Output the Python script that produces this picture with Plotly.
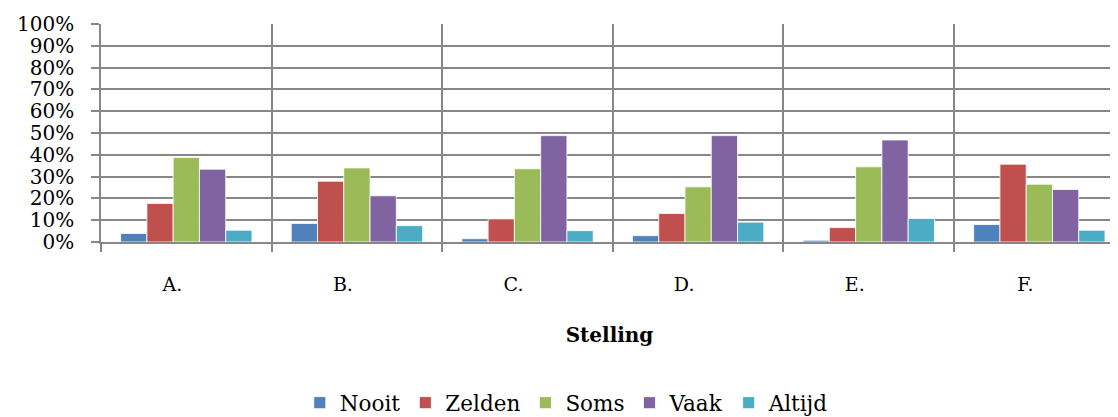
import plotly.graph_objects as go

categories = ["A.", "B.", "C.", "D.", "E.", "F."]
nooit = [0.039, 0.085, 0.015, 0.029, 0.008, 0.080]
zelden = [0.177, 0.279, 0.106, 0.131, 0.066, 0.357]
soms = [0.388, 0.340, 0.336, 0.253, 0.345, 0.265]
vaak = [0.334, 0.212, 0.488, 0.488, 0.468, 0.241]
altijd = [0.054, 0.075, 0.052, 0.091, 0.108, 0.054]

series = [
    ("Nooit", nooit, "#4F81BD"),
    ("Zelden", zelden, "#C0504D"),
    ("Soms", soms, "#9BBB59"),
    ("Vaak", vaak, "#8064A2"),
    ("Altijd", altijd, "#4BACC6"),
]

tick_vals = [i / 10 for i in range(11)]
tick_text = [f"{i*10}%" for i in range(11)]

fig = go.Figure()
for name, vals, color in series:
    fig.add_trace(go.Bar(
        x=categories, y=vals, name=name,
        marker=dict(color=color, line=dict(color="rgba(255,255,255,0.8)", width=1)),
    ))

grid = "#878787"
font_family = "DejaVu Serif"
# the page body has an 8px margin, so the figure is sized to end at the window edge
fig.update_layout(
    width=1110, height=409,
    barmode="group", bargap=0.23, bargroupgap=0,
    plot_bgcolor="white", paper_bgcolor="white",
    margin=dict(l=93, r=0, t=16, b=175, autoexpand=False),
    font=dict(family=font_family, color="black"),
    showlegend=True,
    legend=dict(orientation="h", x=0.458, xanchor="center", y=-0.737, yanchor="middle",
                font=dict(size=21.5, family=font_family), itemwidth=30,
                traceorder="normal"),
    xaxis=dict(
        type="category", range=[-0.5, 5.461], automargin=False,
        tickson="boundaries", showgrid=True, gridcolor=grid, gridwidth=1.5,
        ticks="outside", ticklen=8, tickcolor=grid, tickwidth=1.5,
        showline=True, linecolor=grid, linewidth=1.5,
        tickfont=dict(size=19, family=font_family),
        ticklabelstandoff=24, ticklabelshift=-14,
        title=dict(text="<b>Stelling</b>", font=dict(size=20, family=font_family), standoff=34),
    ),
    yaxis=dict(
        range=[0, 1], tickvals=tick_vals, ticktext=tick_text, automargin=False,
        showgrid=True, gridcolor=grid, gridwidth=1.5, zeroline=False,
        ticks="outside", ticklen=8, tickcolor=grid, tickwidth=1.5,
        showline=True, linecolor=grid, linewidth=1.5,
        tickfont=dict(size=20, family=font_family),
        ticklabelstandoff=13,
    ),
)

fig.write_html("out.html")
